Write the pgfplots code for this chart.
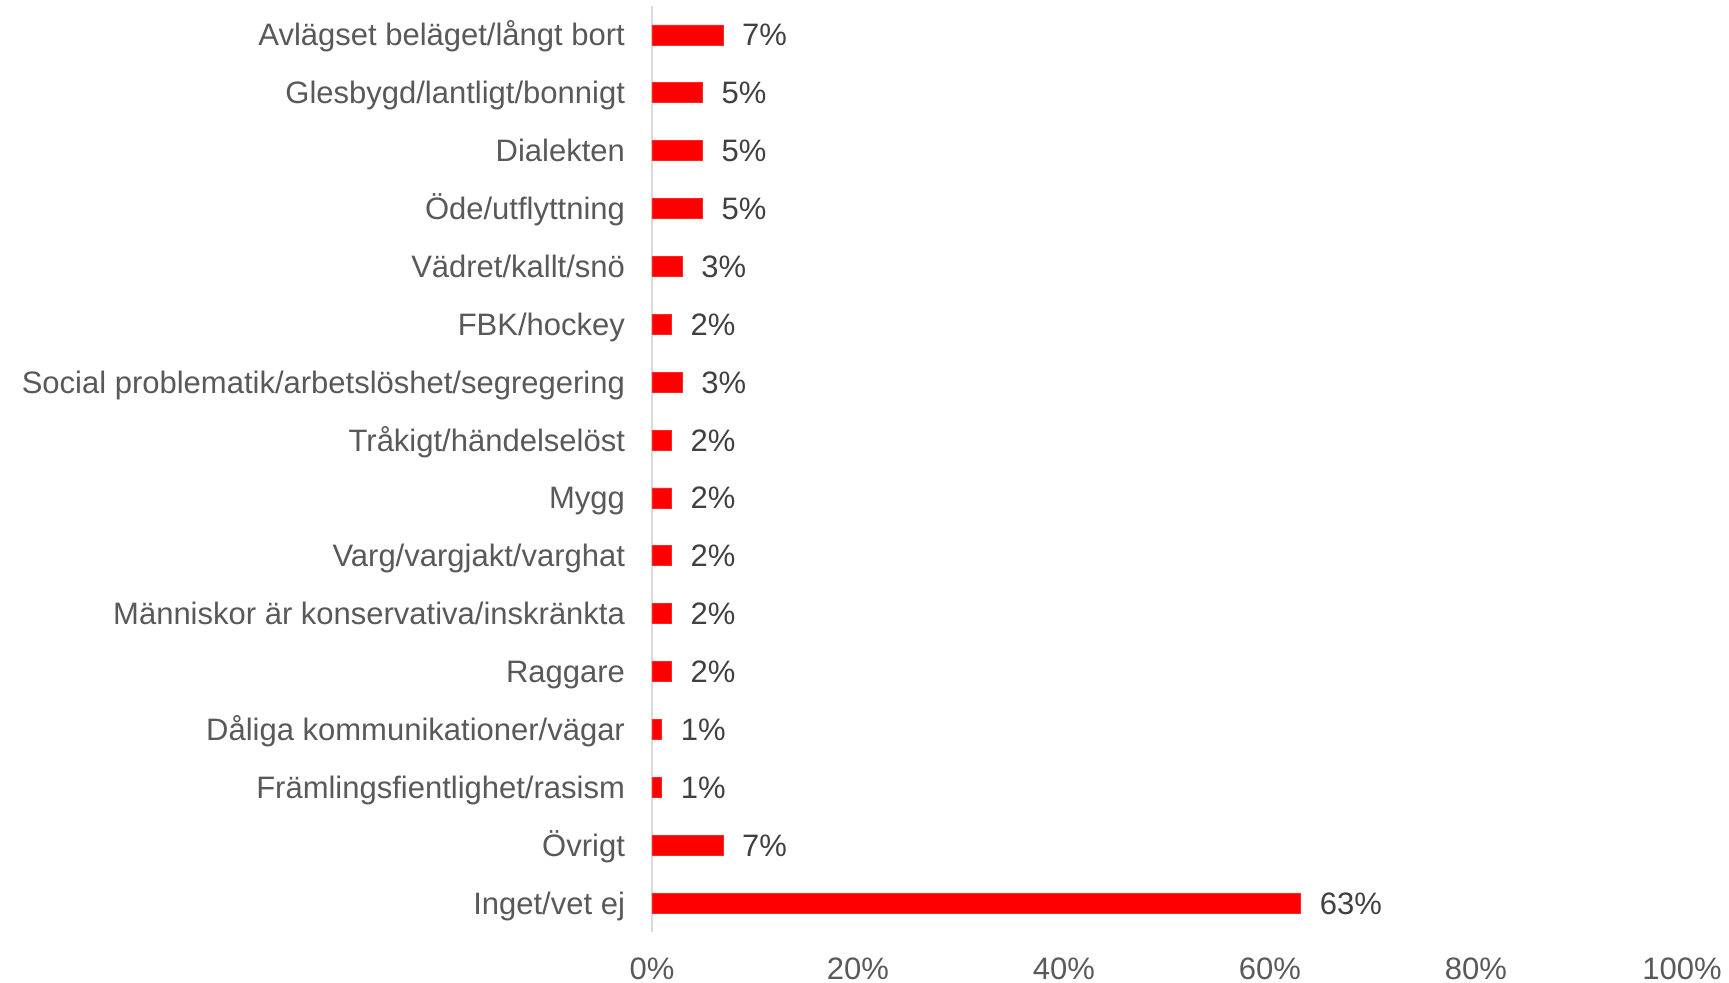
\documentclass[border=0pt]{standalone}
\usepackage{fontspec}
\setmainfont{Liberation Sans}
\usepackage{pgfplots}
\pgfplotsset{compat=1.18}
\usetikzlibrary{calc}
\definecolor{BarRed}{HTML}{FF0000}
\definecolor{LabelGray}{HTML}{595959}
\definecolor{ValueGray}{HTML}{404040}
\definecolor{AxisGray}{HTML}{D9D9D9}

\begin{document}
\begin{tikzpicture}
\begin{axis}[
  name=ax,
  xbar,
  scale only axis,
  width=515pt,
  height=463pt,
  xmin=0, xmax=100,
  ymin=-0.5, ymax=15.5,
  y dir=reverse,
  bar width=10pt,
  axis x line*=bottom,
  axis y line*=left,
  x axis line style={draw=none},
  y axis line style={draw=AxisGray, line width=1pt},
  major tick length=0pt,
  xtick={0,20,40,60,80,100},
  xticklabels={0\%,20\%,40\%,60\%,80\%,100\%},
  xticklabel style={font=\fontsize{15.5}{18}\selectfont, text=LabelGray, yshift=-9.5pt},
  ytick={0,...,15},
  yticklabels={Avlägset beläget/långt bort,Glesbygd/lantligt/bonnigt,Dialekten,Öde/utflyttning,Vädret/kallt/snö,FBK/hockey,Social problematik/arbetslöshet/segregering,Tråkigt/händelselöst,Mygg,Varg/vargjakt/varghat,Människor är konservativa/inskränkta,Raggare,Dåliga kommunikationer/vägar,Främlingsfientlighet/rasism,Övrigt,Inget/vet ej},
  yticklabel style={font=\fontsize{15.5}{18}\selectfont, text=LabelGray, xshift=-10pt, text height=12pt, text depth=1pt},
  nodes near coords={\pgfmathprintnumber[fixed,precision=0,assume math mode=true]{\pgfplotspointmeta}\%},
  every node near coord/.append style={font=\fontsize{15.5}{18}\selectfont, text=ValueGray, anchor=west, xshift=6pt, text height=12pt, text depth=1pt},
]
\addplot[fill=BarRed, draw=BarRed!85!white] coordinates {
  (6.9,0) (4.9,1) (4.9,2) (4.9,3) (2.95,4) (1.9,5) (2.95,6) (1.9,7)
  (1.9,8) (1.9,9) (1.9,10) (1.9,11) (0.95,12) (0.95,13) (6.9,14) (63.0,15)
};
\end{axis}
\pgfresetboundingbox
\useasboundingbox ($(ax.south west)+(-326pt,-25.5pt)$) rectangle ($(ax.north east)+(23.5pt,3pt)$);
\end{tikzpicture}
\end{document}
